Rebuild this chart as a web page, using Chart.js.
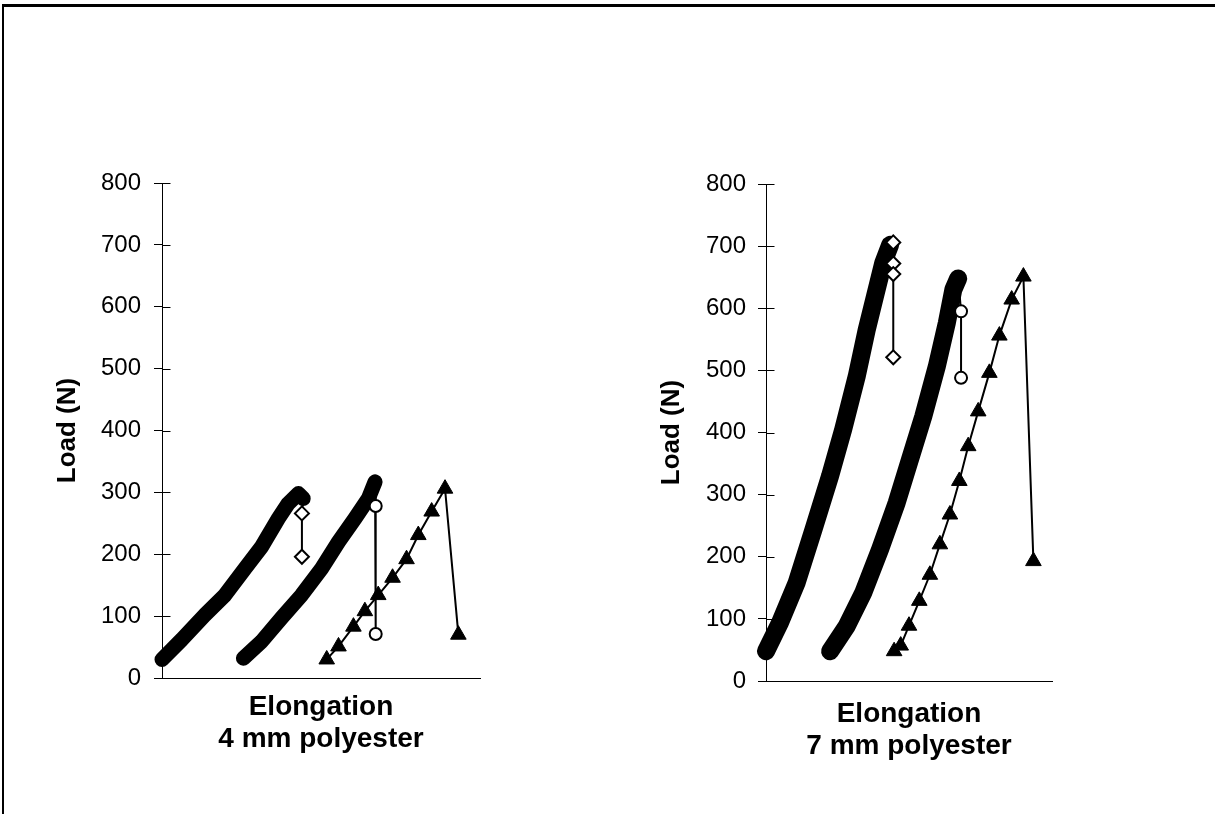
<!DOCTYPE html>
<html>
<head>
<meta charset="utf-8">
<script src="https://cdn.jsdelivr.net/npm/chart.js@4"></script>
<style>
  body { margin: 0; background: #fff; width: 1215px; height: 814px; overflow: hidden; position: relative; }
  #frame { position: absolute; left: 2px; top: 4px; width: 1300px; height: 900px; border-top: 3px solid #000; border-left: 2px solid #000; }
  .box { position: absolute; top: 150px; height: 620px; }
  #leftBox { left: 0px; width: 500px; }
  #rightBox { left: 604px; width: 470px; }
</style>
</head>
<body>
<div id="frame"></div>
<div class="box" id="leftBox"><canvas id="leftChart"></canvas></div>
<div class="box" id="rightBox"><canvas id="rightChart"></canvas></div>
<script>
// tick labels of the load axis
const loadTicks = [0, 100, 200, 300, 400, 500, 600, 700, 800];

// 4 mm polyester (elongation in arbitrary units, load in N)
const leftDiamondX = [0, 0.62, 1.35, 1.98, 2.61, 3.13, 3.66, 3.97, 4.29, 4.44];
const leftDiamondLoad = [30, 62, 102, 134, 177, 212, 258, 282, 298, 290];
const leftDiamondBreakX = [4.40, 4.40];
const leftDiamondBreakLoad = [266, 196];

const leftCircleX = [2.56, 3.13, 3.76, 4.39, 5.02, 5.55, 6.07, 6.49, 6.70];
const leftCircleLoad = [32, 59, 97, 134, 177, 220, 258, 290, 317];
const leftCircleBreakX = [6.72, 6.72];
const leftCircleBreakLoad = [278, 71];

const leftTriangleX = [5.18, 5.55, 6.02, 6.38, 6.80, 7.25, 7.69, 8.06, 8.48, 8.90, 9.32];
const leftTriangleLoad = [30, 51, 83, 108, 134, 162, 192, 231, 269, 306, 70];

// 7 mm polyester
const rightDiamondX = [0, 0.49, 1.07, 1.66, 2.24, 2.70, 3.17, 3.52, 3.81, 4.10, 4.34];
const rightDiamondLoad = [48, 94, 158, 244, 330, 405, 490, 565, 619, 673, 702];
const rightDiamondBreakX = [4.45, 4.45, 4.45, 4.45];
const rightDiamondBreakLoad = [706, 672, 655, 521];

const rightCircleX = [2.24, 2.82, 3.40, 3.99, 4.57, 5.03, 5.50, 5.97, 6.32, 6.55, 6.72];
const rightCircleLoad = [48, 88, 142, 212, 287, 356, 426, 506, 576, 630, 648];
const rightCircleBreakX = [6.82, 6.82];
const rightCircleBreakLoad = [595, 488];

const rightTriangleX = [4.48, 4.71, 5.00, 5.36, 5.73, 6.08, 6.43, 6.76, 7.07, 7.42, 7.81, 8.16, 8.59, 9.00, 9.35];
const rightTriangleLoad = [48, 57, 89, 129, 171, 220, 268, 322, 378, 434, 496, 556, 614, 651, 193];

function toPoints(xs, ys) {
    return xs.map((x, i) => ({ x: x, y: ys[i] }));
}

// thick band made of overlapping markers
function curveSet(xs, ys, width) {
    return {
        data: toPoints(xs, ys),
        showLine: true,
        borderColor: '#000',
        borderWidth: width,
        borderCapStyle: 'round',
        borderJoinStyle: 'round',
        pointRadius: 0,
        pointHoverRadius: 0,
        clip: false,
        order: 1
    };
}

// the drop after break, starting at last point of the curve
function breakSet(xs, ys, bx, by, style, radius) {
    const data = [{ x: xs[xs.length - 1], y: ys[ys.length - 1] }].concat(toPoints(bx, by));
    return {
        data: data,
        showLine: true,
        borderColor: '#000',
        borderWidth: 2,
        pointStyle: style,
        pointRadius: data.map((p, i) => i === 0 ? 0 : radius),
        pointHoverRadius: data.map((p, i) => i === 0 ? 0 : radius),
        pointBackgroundColor: '#fff',
        pointBorderColor: '#000',
        pointBorderWidth: 2,
        clip: false,
        order: 0
    };
}

function triangleSet(xs, ys) {
    return {
        data: toPoints(xs, ys),
        showLine: true,
        borderColor: '#000',
        borderWidth: 2,
        pointStyle: 'triangle',
        pointRadius: 9,
        pointHoverRadius: 9,
        pointBackgroundColor: '#000',
        pointBorderColor: '#000',
        pointBorderWidth: 1,
        clip: false,
        order: 0
    };
}

// short tick marks on the inner side of the load axis
const innerTicks = {
    id: 'innerTicks',
    beforeDatasetsDraw(chart) {
        const ctx = chart.ctx;
        const y = chart.scales.y;
        const left = Math.round(chart.chartArea.left) + 0.5;
        ctx.save();
        ctx.strokeStyle = '#000';
        ctx.lineWidth = 1;
        y.ticks.forEach(t => {
            const py = Math.round(y.getPixelForValue(t.value)) + 0.5;
            ctx.beginPath();
            ctx.moveTo(left, py);
            ctx.lineTo(left + 8, py);
            ctx.stroke();
        });
        ctx.restore();
    }
};

function makeChart(id, datasets, subtitle, pad) {
    const ctx = document.getElementById(id).getContext('2d');
    return new Chart(ctx, {
        type: 'scatter',
        data: { datasets: datasets },
        plugins: [innerTicks],
        options: {
            responsive: true,
            maintainAspectRatio: false,
            animation: false,
            events: [],
            layout: { padding: { left: 0, right: pad.right, top: pad.top, bottom: 0 } },
            plugins: { legend: { display: false }, tooltip: { enabled: false } },
            scales: {
                x: {
                    type: 'linear',
                    min: 0,
                    max: 10,
                    ticks: { display: false },
                    grid: { display: false },
                    border: { display: true, color: '#000', width: 1 },
                    title: {
                        display: true,
                        text: ['Elongation', subtitle],
                        color: '#000',
                        font: { family: 'Liberation Sans, Arial', size: 28, weight: 'bold', lineHeight: 1.14 },
                        padding: { top: 0, bottom: pad.titleBottom }
                    },
                    afterFit(scale) { scale.height = pad.xHeight; }
                },
                y: {
                    min: loadTicks[0],
                    max: loadTicks[loadTicks.length - 1],
                    afterBuildTicks(scale) { scale.ticks = loadTicks.map(v => ({ value: v })); },
                    ticks: {
                        color: '#000',
                        padding: pad.tickPad,
                        font: { family: 'Liberation Sans, Arial', size: 24 }
                    },
                    grid: { display: true, drawOnChartArea: false, drawTicks: true, tickLength: 8, color: '#000' },
                    border: { display: true, color: '#000', width: 1 },
                    title: {
                        display: true,
                        text: 'Load (N)',
                        color: '#000',
                        font: { family: 'Liberation Sans, Arial', size: 26, weight: 'bold', lineHeight: 1.2 },
                        padding: { top: 52, bottom: 0 }
                    },
                    afterFit(scale) { scale.width = 162; }
                }
            }
        }
    });
}

makeChart('leftChart', [
    breakSet(leftDiamondX, leftDiamondLoad, leftDiamondBreakX, leftDiamondBreakLoad, 'rectRot', 7),
    breakSet(leftCircleX, leftCircleLoad, leftCircleBreakX, leftCircleBreakLoad, 'circle', 6),
    triangleSet(leftTriangleX, leftTriangleLoad),
    curveSet(leftDiamondX, leftDiamondLoad, 15),
    curveSet(leftCircleX, leftCircleLoad, 15)
], '4 mm polyester', { right: 20, top: 33, xHeight: 92, titleBottom: 15, tickPad: 13 });

makeChart('rightChart', [
    breakSet(rightDiamondX, rightDiamondLoad, rightDiamondBreakX, rightDiamondBreakLoad, 'rectRot', 7),
    breakSet(rightCircleX, rightCircleLoad, rightCircleBreakX, rightCircleBreakLoad, 'circle', 6),
    triangleSet(rightTriangleX, rightTriangleLoad),
    curveSet(rightDiamondX, rightDiamondLoad, 18),
    curveSet(rightCircleX, rightCircleLoad, 18)
], '7 mm polyester', { right: 22, top: 34, xHeight: 89, titleBottom: 8, tickPad: 12 });
</script>
</body>
</html>
